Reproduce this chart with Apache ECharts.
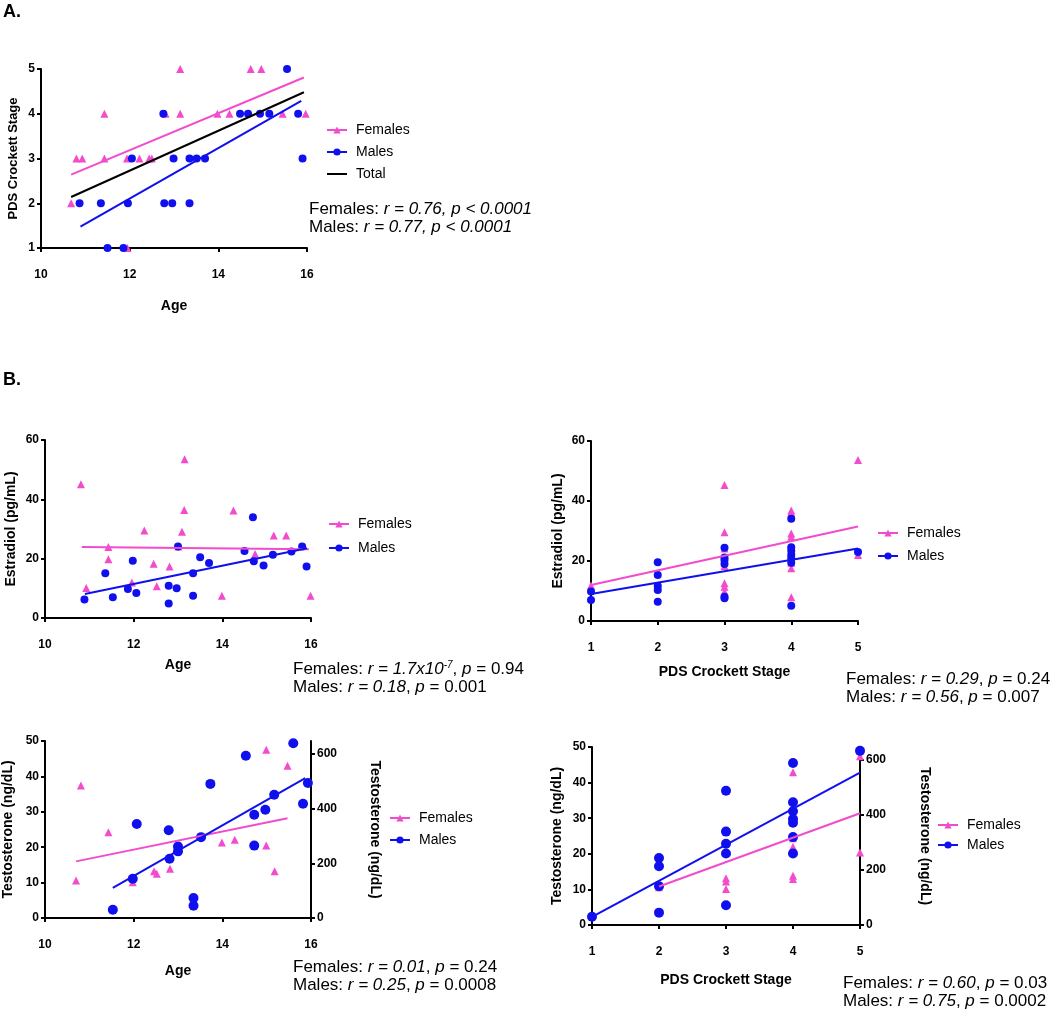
<!DOCTYPE html>
<html><head><meta charset="utf-8">
<script src="https://cdn.jsdelivr.net/npm/echarts@6/dist/echarts.min.js"></script>
<style>html,body{margin:0;padding:0;background:#fff}#c{width:1050px;height:1011px}</style>
</head><body><div id="c"></div>
<script>
// ---------- Panel A: PDS Crockett Stage vs Age ----------
const aFemales = [[10.68,2],[10.8,3],[10.93,3],[11.43,4],[11.43,3],[11.94,3],[11.95,1],[12.22,3],[12.44,3],[12.5,3],[12.81,4],[13.14,5],[13.14,4],[13.98,4],[14.25,4],[14.73,5],[14.97,5],[15.45,4],[15.97,4]];
const aMales = [[10.87,2],[11.35,2],[11.5,1],[11.86,1],[11.96,2],[12.05,3],[12.76,4],[12.78,2],[12.96,2],[12.99,3],[13.35,2],[13.35,3],[13.51,3],[13.7,3],[14.49,4],[14.67,4],[14.94,4],[15.15,4],[15.55,5],[15.8,4],[15.9,3]];
const aFitFemales = [[10.68,2.64],[15.93,4.81]];
const aFitMales = [[10.89,1.48],[15.87,4.29]];
const aFitTotal = [[10.68,2.14],[15.93,4.48]];

// ---------- Panel B1: Estradiol vs Age ----------
const b1Females = [[10.81,45.1],[10.93,10.1],[11.43,23.9],[11.43,19.8],[11.96,12.0],[12.24,29.5],[12.45,18.3],[12.52,10.7],[12.81,17.4],[13.01,24.1],[13.09,29.1],[13.14,36.4],[13.15,53.5],[13.99,7.5],[14.25,36.2],[14.74,21.6],[15.16,27.8],[15.44,27.8],[15.99,7.5]];
const b1Males = [[10.89,6.2],[11.36,15.1],[11.53,7.0],[11.87,9.8],[11.98,19.3],[12.06,8.4],[12.79,10.9],[12.79,4.9],[12.97,10.0],[13.0,24.1],[13.34,15.1],[13.34,7.5],[13.5,20.5],[13.7,18.5],[14.5,22.6],[14.69,34.0],[14.71,19.1],[14.93,17.7],[15.14,21.3],[15.56,22.4],[15.8,24.1],[15.9,17.4]];
const b1FitFemales = [[10.83,23.9],[15.95,23.2]];
const b1FitMales = [[10.9,8.1],[15.91,23.5]];

// ---------- Panel B2: Estradiol vs PDS ----------
const b2Females = [[1,11.8],[3,45.3],[3,29.6],[3,24.2],[3,18.3],[3,12.6],[3,11.4],[3,9.8],[4,36.8],[4,36.1],[4,29.2],[4,28.1],[4,19.4],[4,17.6],[4,7.9],[5,53.7],[5,22]];
const b2Males = [[1,9.8],[1,7.0],[2,19.6],[2,15.3],[2,11.7],[2,10.3],[2,6.4],[3,24.4],[3,21.2],[3,20.3],[3,19],[3,8.1],[3,7.6],[4,34.1],[4,24.6],[4,23.4],[4,22],[4,20.9],[4,19.4],[4,5.1],[5,23]];
const b2FitFemales = [[1,12],[5,31.5]];
const b2FitMales = [[1,9],[5,24.2]];

// ---------- Panel B3: Testosterone vs Age (females left axis, males right axis) ----------
const b3Females = [[10.7,10.6],[10.81,37.4],[11.43,24.2],[11.98,10.1],[12.46,13.2],[12.52,12.5],[12.82,13.9],[13.99,21.3],[14.28,22.1],[14.99,47.5],[14.99,20.5],[15.18,13.2],[15.47,43.0]];
const b3Males = [[11.53,30],[11.98,144],[12.07,344],[12.79,321],[12.81,217],[13.0,262],[13.0,244],[13.35,73],[13.35,45],[13.52,296],[13.73,491],[14.53,594],[14.72,378],[14.72,265],[14.97,396],[15.17,451],[15.6,640],[15.82,418],[15.93,494]];
const b3FitFemales = [[10.7,16.0],[15.47,28.2]];
const b3FitMales = [[11.53,110],[15.87,512]];

// ---------- Panel B4: Testosterone vs PDS ----------
const b4Females = [[2,10.6],[3,37.8],[3,13.1],[3,12.2],[3,10.1],[4,42.9],[4,24.4],[4,22.0],[4,21.1],[4,13.8],[4,12.9],[5,47.4],[5,20.4]];
const b4Males = [[1,30],[2,244],[2,214],[2,141],[2,45],[3,489],[3,340],[3,296],[3,260],[3,72],[4,590],[4,447],[4,414],[4,386],[4,372],[4,320],[4,260],[5,634]];
const b4FitFemales = [[2,10.8],[5,31.4]];
const b4FitMales = [[1,30],[5,555]];

const rightTicks = [0,200,400,600];

const FONT = 'Liberation Sans, Arial, sans-serif';
const PINK = '#f24ccd';
const BLUE = '#1010ee';
const BLACK = '#000';

function xAx(grid, min, max, interval, name, gap) {
  return {type:'value', gridIndex:grid, min:min, max:max, interval:interval, name:name,
    nameLocation:'middle', nameGap:gap,
    nameTextStyle:{fontFamily:FONT, fontWeight:'bold', fontSize:14, color:BLACK},
    axisLine:{show:true, onZero:false, lineStyle:{color:BLACK, width:2}},
    axisTick:{show:true, length:4, lineStyle:{color:BLACK, width:2}},
    axisLabel:{margin:21, fontFamily:FONT, fontWeight:'bold', fontSize:12, color:BLACK},
    splitLine:{show:false}};
}
function yAx(grid, min, max, interval, name, gap, nameSize) {
  return {type:'value', gridIndex:grid, min:min, max:max, interval:interval, name:name,
    nameLocation:'middle', nameGap:gap, nameRotate:90,
    nameTextStyle:{fontFamily:FONT, fontWeight:'bold', fontSize:nameSize||14, color:BLACK},
    axisLine:{show:true, onZero:false, lineStyle:{color:BLACK, width:2}},
    axisTick:{show:true, length:4, lineStyle:{color:BLACK, width:2}},
    axisLabel:{margin:6, fontFamily:FONT, fontWeight:'bold', fontSize:12, color:BLACK},
    splitLine:{show:false}};
}
function yRight(grid, max, gap) {
  return {type:'value', gridIndex:grid, position:'right', min:0, max:max, interval:200,
    name:'Testosterone (ng/dL)', nameLocation:'middle', nameGap:gap, nameRotate:-90,
    nameTextStyle:{fontFamily:FONT, fontWeight:'bold', fontSize:14, color:BLACK},
    axisLine:{show:true, onZero:false, lineStyle:{color:BLACK, width:2}},
    axisTick:{show:true, length:4, customValues:rightTicks, lineStyle:{color:BLACK, width:2}},
    axisLabel:{margin:6, customValues:rightTicks, fontFamily:FONT, fontWeight:'bold', fontSize:12, color:BLACK},
    splitLine:{show:false}};
}
function sc(name, data, xi, yi, sym, color, size) {
  return {type:'scatter', name:name, data:data, xAxisIndex:xi, yAxisIndex:yi, symbol:sym,
    symbolSize:size, itemStyle:{color:color, opacity:1}, z:2, silent:true};
}
function fit(name, data, xi, yi, color, sym) {
  return {type:'line', name:name, data:data, xAxisIndex:xi, yAxisIndex:yi, showSymbol:false,
    symbol:sym, symbolSize:8, lineStyle:{color:color, width:2}, itemStyle:{color:color},
    z:3, silent:true};
}
function ann(left, top, text) {
  const base = {fontFamily:FONT, fontSize:17, color:BLACK, lineHeight:18};
  return {left:left, top:top, padding:0, text:text,
    textStyle:Object.assign({fontWeight:'normal', rich:{
      i:Object.assign({fontStyle:'italic'}, base),
      n:Object.assign({fontStyle:'normal'}, base),
      s:{fontFamily:FONT, fontSize:10, lineHeight:10, fontStyle:'italic', color:BLACK, verticalAlign:'top'}
    }}, base)};
}
function leg(left, top, items, gap) {
  return {left:left, top:top, padding:0, orient:'vertical', data:items, selectedMode:false,
    itemWidth:20, itemHeight:9, itemGap:gap,
    textStyle:{fontFamily:FONT, fontSize:14, color:BLACK, padding:[0,0,0,4]}};
}

const option = {
  backgroundColor:'#fff',
  animation:false,
  title:[
    {text:'A.', left:3, top:3, padding:0, textStyle:{fontFamily:FONT, fontSize:18, fontWeight:'bold', color:BLACK}},
    {text:'B.', left:3, top:371, padding:0, textStyle:{fontFamily:FONT, fontSize:18, fontWeight:'bold', color:BLACK}},
    ann(309, 200, 'Females: {i|r = 0.76, p < 0.0001}\nMales: {i|r = 0.77, p < 0.0001}'),
    ann(293, 660, 'Females: {i|r = 1.7x10}{s|-7}, {i|p} = 0.94\nMales: {i|r = 0.18}, {i|p} = 0.001'),
    ann(846, 670, 'Females: {i|r = 0.29}, {i|p} = 0.24\nMales: {i|r = 0.56}, {i|p} = 0.007'),
    ann(293, 958, 'Females: {i|r = 0.01}, {i|p} = 0.24\nMales: {i|r = 0.25}, {i|p} = 0.0008'),
    ann(843, 974, 'Females: {i|r = 0.60}, {i|p} = 0.03\nMales: {i|r = 0.75}, {i|p} = 0.0002')
  ],
  legend:[
    leg(326, 123, ['Females','Males',{name:'Total', icon:'path://M0 0H20V2H0Z'}], 8),
    leg(328, 517, ['Females','Males'], 10),
    leg(877, 526, ['Females','Males'], 9),
    leg(389, 811, ['Females','Males'], 8),
    leg(937, 818, ['Females','Males'], 6)
  ],
  grid:[
    {left:41, top:69, width:266, height:179},
    {left:45, top:440, width:266, height:178},
    {left:591, top:441, width:267, height:180},
    {left:45, top:741, width:266, height:177},
    {left:592, top:747, width:268, height:178}
  ],
  xAxis:[
    xAx(0, 10, 16, 2, 'Age', 51),
    xAx(1, 10, 16, 2, 'Age', 40),
    xAx(2, 1, 5, 1, 'PDS Crockett Stage', 44),
    xAx(3, 10, 16, 2, 'Age', 46),
    xAx(4, 1, 5, 1, 'PDS Crockett Stage', 48)
  ],
  yAxis:[
    yAx(0, 1, 5, 1, 'PDS Crockett Stage', 21, 13),
    yAx(1, 0, 60, 20, 'Estradiol (pg/mL)', 27),
    yAx(2, 0, 60, 20, 'Estradiol (pg/mL)', 26),
    yAx(3, 0, 50, 10, 'Testosterone (ng/dL)', 30),
    yRight(3, 648, 57),
    yAx(4, 0, 50, 10, 'Testosterone (ng/dL)', 28),
    yRight(4, 648, 58)
  ],
  series:[
    fit('Females', aFitFemales, 0, 0, PINK, 'triangle'),
    fit('Males', aFitMales, 0, 0, BLUE, 'circle'),
    fit('Total', aFitTotal, 0, 0, BLACK, 'none'),
    fit('Females', b1FitFemales, 1, 1, PINK, 'triangle'),
    fit('Males', b1FitMales, 1, 1, BLUE, 'circle'),
    fit('Females', b2FitFemales, 2, 2, PINK, 'triangle'),
    fit('Males', b2FitMales, 2, 2, BLUE, 'circle'),
    fit('Females', b3FitFemales, 3, 3, PINK, 'triangle'),
    fit('Males', b3FitMales, 3, 4, BLUE, 'circle'),
    fit('Females', b4FitFemales, 4, 5, PINK, 'triangle'),
    fit('Males', b4FitMales, 4, 6, BLUE, 'circle'),
    sc('Females', aFemales, 0, 0, 'triangle', PINK, 8),
    sc('Males', aMales, 0, 0, 'circle', BLUE, 8),
    sc('Females', b1Females, 1, 1, 'triangle', PINK, 8),
    sc('Males', b1Males, 1, 1, 'circle', BLUE, 8),
    sc('Females', b2Females, 2, 2, 'triangle', PINK, 8),
    sc('Males', b2Males, 2, 2, 'circle', BLUE, 8),
    sc('Females', b3Females, 3, 3, 'triangle', PINK, 8),
    sc('Males', b3Males, 3, 4, 'circle', BLUE, 10),
    sc('Females', b4Females, 4, 5, 'triangle', PINK, 8),
    sc('Males', b4Males, 4, 6, 'circle', BLUE, 10)
  ]
};
const chart = echarts.init(document.getElementById('c'), null, {renderer:'canvas'});
chart.setOption(option);
</script></body></html>
